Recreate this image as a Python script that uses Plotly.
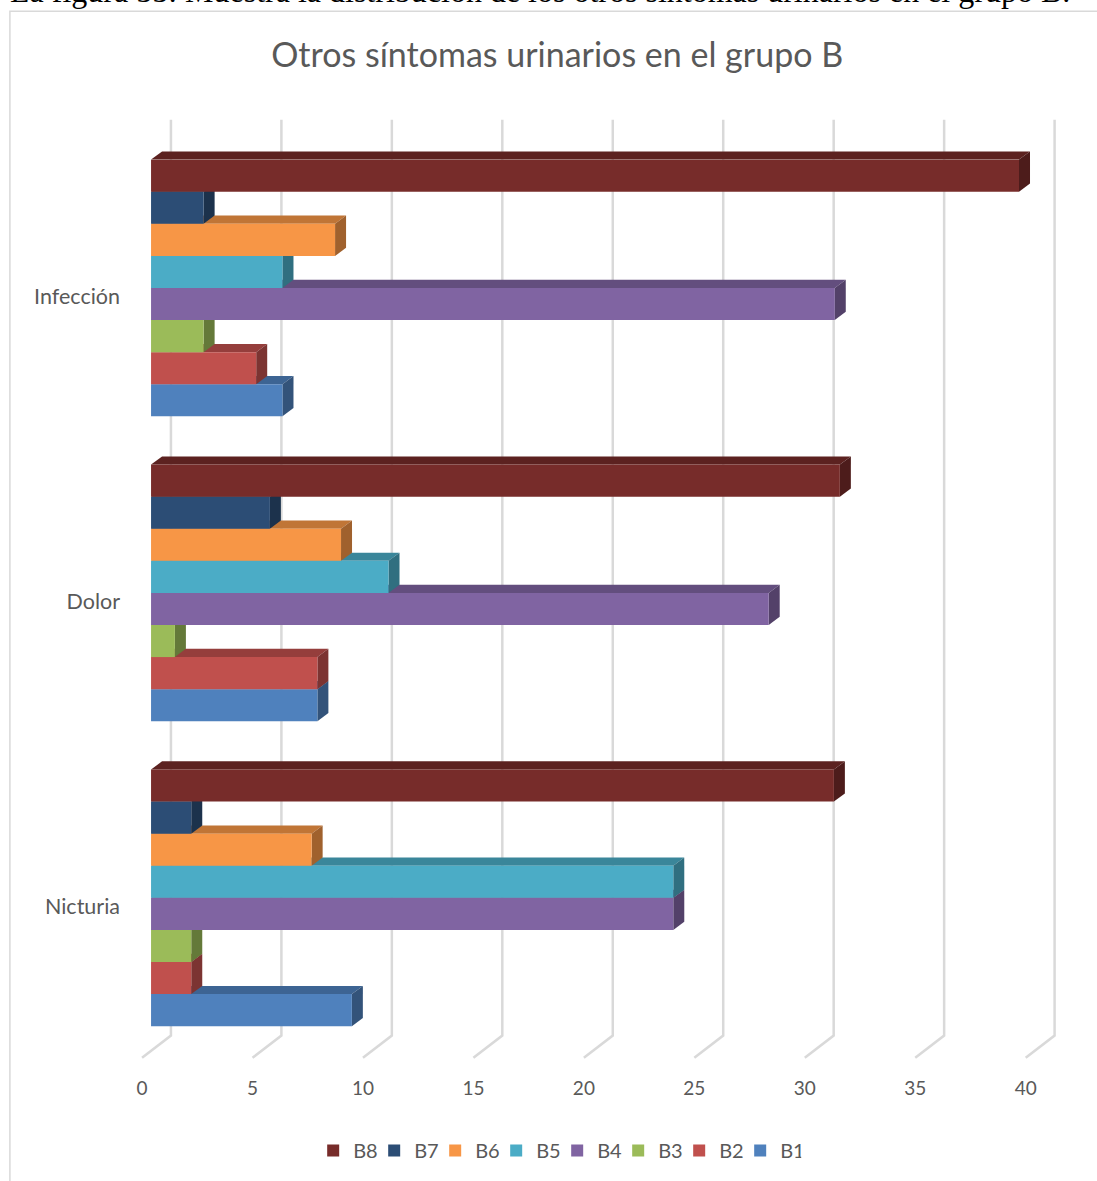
import plotly.graph_objects as go

# ---------------------------------------------------------------- data
categories = ["Nicturia", "Dolor", "Infección"]          # bottom -> top
series_names = ["B1", "B2", "B3", "B4", "B5", "B6", "B7", "B8"]

b1 = [9.09, 7.53, 5.95]
b2 = [1.82, 7.53, 4.76]
b3 = [1.82, 1.08, 2.38]
b4 = [23.64, 27.96, 30.95]
b5 = [23.64, 10.75, 5.95]
b6 = [7.27, 8.60, 8.33]
b7 = [1.82, 5.38, 2.38]
b8 = [30.91, 31.18, 39.29]
series_values = [b1, b2, b3, b4, b5, b6, b7, b8]

x_ticks = [0, 5, 10, 15, 20, 25, 30, 35, 40]

colors = ["#4F81BD", "#C0504D", "#9BBB59", "#8064A2",
          "#4BACC6", "#F79646", "#2C4D75", "#772C2A"]

title_text = "Otros síntomas urinarios en el grupo B"
caption_text = ("La figura 55: Muestra la distribución de los otros síntomas "
                "urinarios en el grupo B.")

# ---------------------------------------------------------------- geometry
FIG_W, FIG_H = 1097, 1181
PX_PER_X = 22.1          # pixels per value unit
PX_PER_CAT = 305.0       # pixels between category centres
X0_PX = 150.7            # pixel column of value 0 (bar front plane)
Y0_PX = 898.3            # pixel row of the first category centre
XMIN, XMAX = -0.5, 41.1
YMIN, YMAX = -0.535, 2.6

L = X0_PX + XMIN * PX_PER_X
W = (XMAX - XMIN) * PX_PER_X
R = FIG_W - L - W
T = Y0_PX - YMAX * PX_PER_CAT
H = (YMAX - YMIN) * PX_PER_CAT
B = FIG_H - T - H


def paper_x(px):
    return (px - L) / W


def paper_y(py):
    return (T + H - py) / H


# bar layout inside each category and the 3-D depth offsets
BAR_H = 32.09 / PX_PER_CAT
DEPTH_DX = 11.0 / PX_PER_X
DEPTH_DY = 8.2 / PX_PER_CAT
FLOOR_FRONT_DX = -9.0 / PX_PER_X
FLOOR_BACK_DX = 19.9 / PX_PER_X
FLOOR_FRONT_Y = (Y0_PX - 1058.3) / PX_PER_CAT
FLOOR_BACK_Y = (Y0_PX - 1036.0) / PX_PER_CAT
WALL_TOP_Y = (Y0_PX - 120.0) / PX_PER_CAT
LABEL_DY = -8.7 / PX_PER_CAT


def shade(hex_color, f):
    h = hex_color.lstrip("#")
    r, g, b = (int(h[i:i + 2], 16) for i in (0, 2, 4))
    return "#%02x%02x%02x" % (int(r * f), int(g * f), int(b * f))


def bar_center(cat_idx, k):
    return cat_idx + (k - 3.5) * BAR_H


def poly(points):
    return "M " + " L ".join("%.4f,%.4f" % p for p in points) + " Z"


fig = go.Figure()

# front faces of the bars
for k, (name, vals, col) in enumerate(zip(series_names, series_values, colors)):
    fig.add_trace(go.Bar(
        name=name,
        orientation="h",
        x=vals,
        y=[bar_center(i, k) for i in range(len(categories))],
        width=BAR_H,
        marker=dict(color=col, line=dict(width=0)),
        hovertemplate=name + ": %{x}<extra></extra>",
    ))

shapes = []

# gridlines: floor diagonal + back wall vertical
for t in x_ticks:
    shapes.append(dict(
        type="path", xref="x", yref="y", layer="below",
        path="M %.4f,%.4f L %.4f,%.4f L %.4f,%.4f" % (
            t + FLOOR_FRONT_DX, FLOOR_FRONT_Y,
            t + FLOOR_BACK_DX, FLOOR_BACK_Y,
            t + FLOOR_BACK_DX, WALL_TOP_Y),
        line=dict(color="#d9d9d9", width=2.5),
    ))

# top and side faces, stacked bottom-up so upper bars hide lower ones
for i in range(len(categories)):
    for k, (vals, col) in enumerate(zip(series_values, colors)):
        v = vals[i]
        c = bar_center(i, k)
        top, bot = c + BAR_H / 2, c - BAR_H / 2
        shapes.append(dict(
            type="path", xref="x", yref="y", layer="between",
            path=poly([(0, top), (DEPTH_DX, top + DEPTH_DY),
                       (v + DEPTH_DX, top + DEPTH_DY), (v, top)]),
            fillcolor=shade(col, 0.78), line=dict(width=0),
        ))
        shapes.append(dict(
            type="path", xref="x", yref="y", layer="between",
            path=poly([(v, bot), (v, top), (v + DEPTH_DX, top + DEPTH_DY),
                       (v + DEPTH_DX, bot + DEPTH_DY)]),
            fillcolor=shade(col, 0.65), line=dict(width=0),
        ))

# chart frame
shapes.append(dict(
    type="rect", xref="paper", yref="paper", layer="below",
    x0=paper_x(9.5), x1=paper_x(1200), y0=paper_y(1300), y1=paper_y(11.5),
    line=dict(color="#d9d9d9", width=1.5), fillcolor="rgba(0,0,0,0)",
))

FONT = "Lato"
TXT = "#595959"

fig.update_layout(
    width=FIG_W, height=FIG_H,
    margin=dict(l=L, r=R, t=T, b=B, autoexpand=False),
    paper_bgcolor="white", plot_bgcolor="white",
    barmode="overlay",
    shapes=shapes,
    showlegend=True,
    legend=dict(
        orientation="h", traceorder="reversed",
        x=paper_x(557), xanchor="center",
        y=paper_y(1151), yanchor="middle",
        font=dict(family=FONT, size=20, color=TXT),
        entrywidth=16,
    ),
    title=dict(
        text=title_text, xref="paper", x=paper_x(557), xanchor="center",
        y=1 - 55 / FIG_H, yanchor="middle",
        font=dict(family=FONT, size=34, color=TXT),
    ),
    xaxis=dict(
        range=[XMIN, XMAX], showgrid=False, zeroline=False, showline=False,
        tickvals=[t + FLOOR_FRONT_DX for t in x_ticks],
        ticktext=[str(t) for t in x_ticks],
        ticks="", ticklabelstandoff=14,
        tickfont=dict(family=FONT, size=19, color=TXT),
    ),
    yaxis=dict(
        range=[YMIN, YMAX], showgrid=False, zeroline=False, showline=False,
        tickvals=[i + LABEL_DY for i in range(len(categories))],
        ticktext=categories,
        ticks="", ticklabelstandoff=19,
        tickfont=dict(family=FONT, size=21.5, color=TXT),
    ),
    annotations=[dict(
        text=caption_text, xref="paper", yref="paper",
        x=paper_x(8), xanchor="left", y=paper_y(-9), yanchor="middle",
        showarrow=False,
        font=dict(family="Liberation Serif", size=32, color="black"),
    )],
)

fig.write_html("out.html")
